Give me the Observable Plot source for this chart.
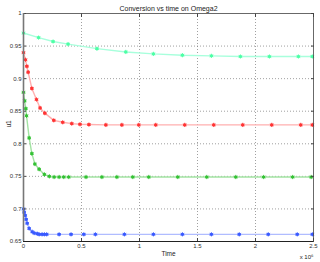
<!DOCTYPE html>
<html>
<head>
<meta charset="utf-8">
<script src="https://cdn.jsdelivr.net/npm/d3@7"></script>
<script src="https://cdn.jsdelivr.net/npm/@observablehq/plot@0.6"></script>
<style>
  html, body { margin: 0; padding: 0; background: #fff; }
  #chart svg { display: block; }
</style>
</head>
<body>
<div id="chart"></div>
<script>
// Time in units of 1e6
const cyanT = [0, 0.13, 0.255, 0.384, 0.633, 0.882, 1.12, 1.37, 1.62, 1.87, 2.12, 2.37, 2.49];
const cyanU = [0.970, 0.963, 0.957, 0.953, 0.946, 0.941, 0.938, 0.936, 0.935, 0.934, 0.934, 0.934, 0.934];

const redT = [0, 0.017, 0.029, 0.04, 0.072, 0.112, 0.143, 0.184, 0.261, 0.338, 0.416, 0.487, 0.564, 0.71, 0.848, 0.994, 1.14, 1.39, 1.64, 1.89, 2.14, 2.39, 2.49];
const redU = [0.940, 0.929, 0.919, 0.910, 0.885, 0.868, 0.855, 0.847, 0.836, 0.833, 0.831, 0.830, 0.8295, 0.829, 0.829, 0.829, 0.829, 0.829, 0.829, 0.829, 0.829, 0.829, 0.829];

const greenT = [0, 0.01, 0.02, 0.026, 0.049, 0.072, 0.098, 0.135, 0.180, 0.223, 0.264, 0.307, 0.347, 0.39, 0.539, 0.676, 0.805, 0.942, 1.08, 1.33, 1.58, 1.83, 2.07, 2.32, 2.48];
const greenU = [0.879, 0.866, 0.854, 0.843, 0.809, 0.785, 0.769, 0.761, 0.753, 0.750, 0.749, 0.749, 0.749, 0.749, 0.749, 0.749, 0.749, 0.749, 0.749, 0.749, 0.749, 0.749, 0.749, 0.749, 0.749];

const blueT = [0, 0.006, 0.015, 0.023, 0.032, 0.049, 0.075, 0.092, 0.118, 0.135, 0.16, 0.18, 0.2, 0.307, 0.41, 0.52, 0.62, 0.87, 1.12, 1.37, 1.62, 1.86, 2.11, 2.36, 2.49];
const blueU = [0.700, 0.695, 0.690, 0.684, 0.678, 0.670, 0.665, 0.663, 0.662, 0.661, 0.661, 0.661, 0.661, 0.661, 0.661, 0.661, 0.661, 0.661, 0.661, 0.661, 0.661, 0.661, 0.661, 0.661, 0.661];

const xTicks = [0, 0.5, 1, 1.5, 2, 2.5];
const xTickLabels = ["0", "0.5", "1", "1.5", "2", "2.5"];
const yTicks = [0.65, 0.7, 0.75, 0.8, 0.85, 0.9, 0.95, 1];
const yTickLabels = ["0.65", "0.7", "0.75", "0.8", "0.85", "0.9", "0.95", "1"];

const titleText = "Conversion vs time on Omega2";
const xLabel = "Time";
const yLabel = "u1";
const xExponent = "x 10\u2076";

const series = [
  {t: cyanT, u: cyanU, line: "#a8ffdc", mark: "#4dffa6"},
  {t: redT, u: redU, line: "#ffb0b0", mark: "#ff3333"},
  {t: greenT, u: greenU, line: "#a3e3a3", mark: "#33c233"},
  {t: blueT, u: blueU, line: "#b0bcff", mark: "#3a5aff"}
];
const rows = series.flatMap((s, i) => s.t.map((t, j) => ({t, u: s.u[j], s: i, line: s.line, mark: s.mark})));

const font = "Liberation Sans, Arial, sans-serif";
const xLabelMap = new Map(xTicks.map((v, i) => [v, xTickLabels[i]]));
const yLabelMap = new Map(yTicks.map((v, i) => [v, yTickLabels[i]]));

const chart = Plot.plot({
  width: 320,
  height: 262,
  marginLeft: 23,
  marginRight: 7,
  marginTop: 13,
  marginBottom: 21,
  style: {fontFamily: font, fontSize: "6px", color: "#333", background: "#fff"},
  x: {domain: [0, 2.5]},
  y: {domain: [0.65, 1]},
  marks: [
    Plot.gridX(xTicks.slice(1, -1), {stroke: "#777", strokeOpacity: 0.7, strokeDasharray: "1,2"}),
    Plot.gridY(yTicks.slice(1, -1), {stroke: "#777", strokeOpacity: 0.7, strokeDasharray: "1,2"}),
    Plot.line(rows, {x: "t", y: "u", z: "s", stroke: "line", strokeWidth: 1.4}),
    Plot.dot(rows, {x: "t", y: "u", fill: "mark", r: 1.6}),
    Plot.dot(rows, {x: "t", y: "u", stroke: "mark", symbol: "asterisk", r: 2, strokeWidth: 0.8}),
    Plot.frame({stroke: "#444", strokeWidth: 0.8}),
    Plot.axisX(xTicks, {anchor: "bottom", tickSize: -3, tickPadding: 5, tickFormat: d => xLabelMap.get(d), label: null, stroke: "#444", fill: "#333"}),
    Plot.axisX(xTicks, {anchor: "top", tickSize: -3, tickFormat: () => "", label: null, stroke: "#444"}),
    Plot.axisY(yTicks, {anchor: "left", tickSize: -3, tickPadding: 5, tickFormat: d => yLabelMap.get(d), label: null, stroke: "#444", fill: "#333"}),
    Plot.axisY(yTicks, {anchor: "right", tickSize: -3, tickFormat: () => "", label: null, stroke: "#444"}),
    Plot.ruleX([0], {stroke: "#777", strokeWidth: 1.6}),
    Plot.ruleY([0.65], {stroke: "#222", strokeWidth: 1}),
    Plot.text([titleText], {frameAnchor: "top", dy: -7, fontSize: 7, fill: "#222"}),
    Plot.text([xLabel], {frameAnchor: "bottom", dy: 14, fontSize: 6.5, fill: "#222"}),
    Plot.text([xExponent], {frameAnchor: "bottom-right", dy: 17, dx: 0, textAnchor: "end", fontSize: 6, fill: "#222"}),
    Plot.text([yLabel], {frameAnchor: "left", dx: -15, rotate: -90, fontSize: 6.5, fill: "#222"})
  ]
});
document.getElementById("chart").appendChild(chart);
</script>
</body>
</html>
